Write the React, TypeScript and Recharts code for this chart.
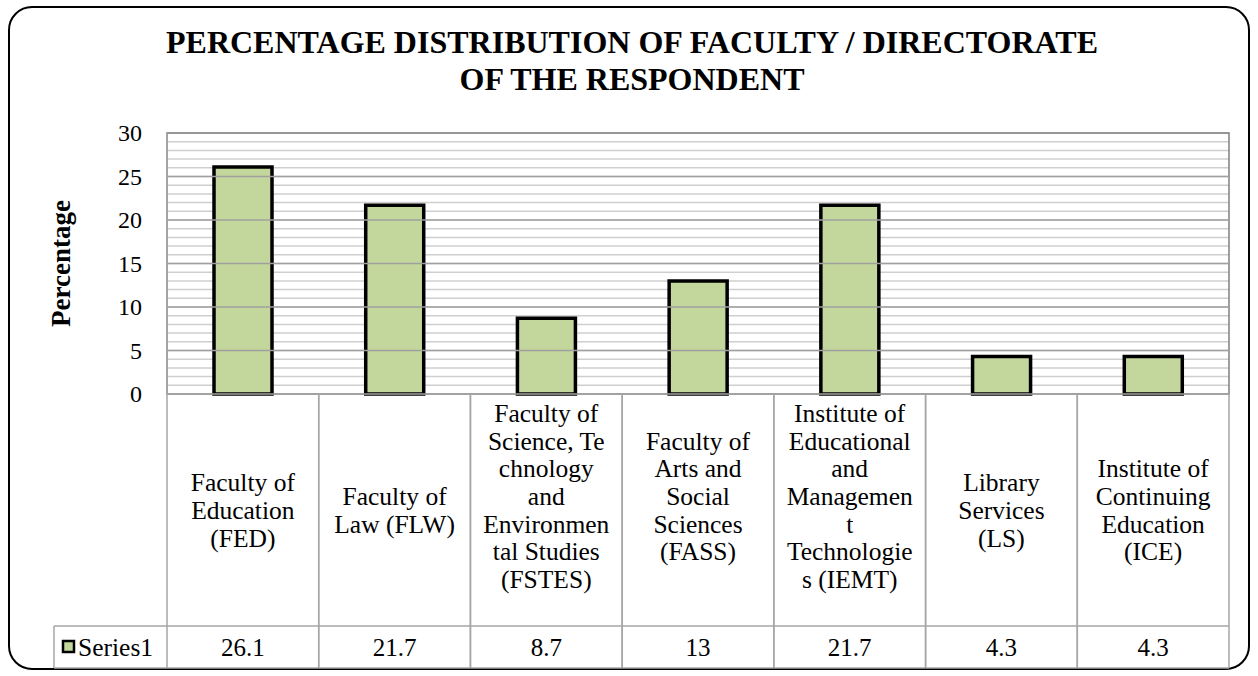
import React from 'react';
import { BarChart, Bar, XAxis, YAxis, CartesianGrid, ReferenceLine, ReferenceArea } from 'recharts';

const categories = ['FED', 'FLW', 'FSTES', 'FASS', 'IEMT', 'LS', 'ICE'];
const categoryLines: string[][] = [
  ['Faculty of', 'Education', '(FED)'],
  ['Faculty of', 'Law (FLW)'],
  ['Faculty of', 'Science, Te', 'chnology', 'and', 'Environmen', 'tal Studies', '(FSTES)'],
  ['Faculty of', 'Arts and', 'Social', 'Sciences', '(FASS)'],
  ['Institute of', 'Educational', 'and', 'Managemen', 't', 'Technologie', 's (IEMT)'],
  ['Library', 'Services', '(LS)'],
  ['Institute of', 'Continuing', 'Education', '(ICE)'],
];
const series1 = [26.1, 21.7, 8.7, 13, 21.7, 4.3, 4.3];
const valueLabels = ['26.1', '21.7', '8.7', '13', '21.7', '4.3', '4.3'];
const seriesName = 'Series1';
const yTicks = [0, 5, 10, 15, 20, 25, 30];
const minorTicks = [0, 1, 2, 3, 4, 5, 6, 7, 8, 9, 10, 11, 12, 13, 14, 15, 16, 17, 18, 19, 20, 21, 22, 23, 24, 25, 26, 27, 28, 29, 30];
const majorLines = [5, 10, 15, 20, 25];
const title1 = 'PERCENTAGE DISTRIBUTION OF FACULTY / DIRECTORATE';
const title2 = 'OF THE RESPONDENT';
const yLabel = 'Percentage';

const data = categories.map((c, i) => ({ name: c, value: series1[i] }));

const W = 1258;
const H = 676;
const YW = 60;
const MARGIN = { top: 133, right: 29, left: 107, bottom: 8 };
const XH = 274;
const PLOT_W = W - MARGIN.left - YW - MARGIN.right;
const COL_W = PLOT_W / categories.length;
const LABEL_ROW_H = 232;
const FONT = "'Liberation Serif', 'Times New Roman', Times, 'DejaVu Serif', serif";
const GRID = '#a6a6a6';
const FILL = '#c3d69b';
const txt = (size: number, bold = false): React.CSSProperties => ({ fontFamily: FONT, fontSize: size, fontWeight: bold ? 'bold' : 'normal' });

const XTick = (props: any) => {
  const { x, y, payload } = props;
  const i = categories.indexOf(payload.value);
  if (i < 0) return null;
  const half = COL_W / 2;
  const top = y;
  const mid = top + LABEL_ROW_H;
  const bottom = top + XH;
  const lines = categoryLines[i];
  const lh = 27.7;
  const center = (top + mid) / 2 - (lines.length >= 5 ? lh / 2 : 0);
  const start = center - ((lines.length - 1) * lh) / 2;
  const legLeft = x - half - 113;
  return (
    <g>
      <line x1={x - half} y1={top} x2={x - half} y2={bottom} stroke={GRID} strokeWidth={1.5} />
      <line x1={x + half} y1={top} x2={x + half} y2={bottom} stroke={GRID} strokeWidth={1.5} />
      <line x1={x - half} y1={mid} x2={x + half} y2={mid} stroke={GRID} strokeWidth={1.5} />
      <line x1={x - half} y1={bottom} x2={x + half} y2={bottom} stroke={GRID} strokeWidth={1.5} />
      {lines.map((t, k) => (
        <text key={k} x={x} y={start + k * lh} dy="0.35em" textAnchor="middle" style={txt(25.5)} fill="#000">
          {t}
        </text>
      ))}
      <text x={x} y={(mid + bottom) / 2} dy="0.35em" textAnchor="middle" style={txt(25)} fill="#000">
        {valueLabels[i]}
      </text>
      {i === 0 && (
        <g>
          <line x1={legLeft} y1={mid} x2={x - half} y2={mid} stroke={GRID} strokeWidth={1.5} />
          <line x1={legLeft} y1={bottom} x2={x - half} y2={bottom} stroke={GRID} strokeWidth={1.5} />
          <line x1={legLeft} y1={mid} x2={legLeft} y2={bottom} stroke={GRID} strokeWidth={1.5} />
          <rect x={legLeft + 9} y={(mid + bottom) / 2 - 6} width={11} height={11} fill={FILL} stroke="#000" strokeWidth={2.5} />
          <text x={legLeft + 24} y={(mid + bottom) / 2} dy="0.35em" style={txt(25.5)} fill="#000">
            {seriesName}
          </text>
        </g>
      )}
    </g>
  );
};

const YTick = (props: any) => {
  const { x, y, payload } = props;
  if (yTicks.indexOf(payload.value) < 0) return null;
  return (
    <text x={x} y={y} dy="0.35em" textAnchor="end" style={txt(24)} fill="#000">
      {payload.value}
    </text>
  );
};

const YLabel = (props: any) => {
  const vb = props.viewBox || {};
  const cx = vb.x - 46;
  const cy = vb.y + vb.height / 2;
  return (
    <text x={cx} y={cy} dy="0.35em" textAnchor="middle" style={txt(27, true)} fill="#000" transform={`rotate(-90 ${cx} ${cy})`}>
      {yLabel}
    </text>
  );
};

export default function App() {
  return (
    <div style={{ position: 'absolute', left: 0, top: 0, width: W, height: H, background: '#fff', overflow: 'hidden' }}>
      <div style={{ position: 'absolute', left: 8, top: 6, width: 1242, height: 664, border: '2.5px solid #000', borderRadius: 24, boxSizing: 'border-box' }} />
      <svg style={{ position: 'absolute', left: 0, top: 0 }} width={W} height={120}>
        <text x={632} y={53} textAnchor="middle" style={txt(32, true)} fill="#000">{title1}</text>
        <text x={632} y={90} textAnchor="middle" style={txt(32, true)} fill="#000">{title2}</text>
      </svg>
      <div style={{ position: 'absolute', left: 0, top: 0 }}>
        <BarChart width={W} height={H} data={data} margin={MARGIN} barCategoryGap={0}>
          <CartesianGrid vertical={false} stroke="#cfcfcf" strokeWidth={1.5} />
          {majorLines.map((v) => (
            <ReferenceLine key={v} y={v} stroke="#a0a0a0" strokeWidth={1.5} />
          ))}
          <ReferenceArea y1={0} y2={30} fill="none" stroke="#808080" strokeWidth={1.5} />
          <XAxis
            dataKey="name"
            height={XH}
            interval={0}
            tickLine={false}
            tickSize={0}
            tickMargin={0}
            axisLine={{ stroke: GRID, strokeWidth: 1.5 }}
            tick={<XTick />}
          />
          <YAxis
            width={YW}
            domain={[0, 30]}
            ticks={minorTicks}
            interval={0}
            tickLine={false}
            tickSize={0}
            tickMargin={25}
            axisLine={{ stroke: GRID, strokeWidth: 1.5 }}
            tick={<YTick />}
            label={<YLabel />}
          />
          <Bar dataKey="value" fill={FILL} stroke="#000" strokeWidth={3.5} barSize={58} isAnimationActive={false} />
        </BarChart>
      </div>
    </div>
  );
}
